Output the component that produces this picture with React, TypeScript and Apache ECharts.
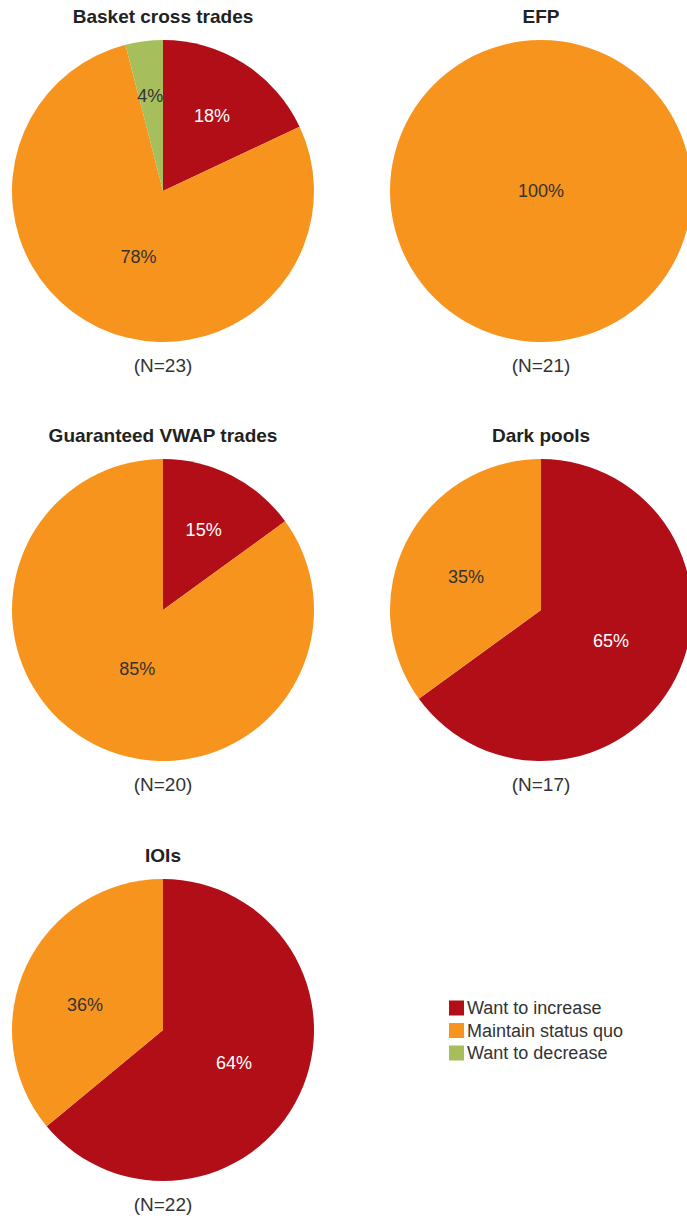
import React, { useEffect, useRef } from "react";
import * as echarts from "echarts";

const categories = ["Want to increase", "Maintain status quo", "Want to decrease"];
const titles = ["Basket cross trades", "EFP", "Guaranteed VWAP trades", "Dark pools", "IOIs"];
const sampleLabels = ["(N=23)", "(N=21)", "(N=20)", "(N=17)", "(N=22)"];
const basketValues = [18, 78, 4];
const efpValues = [0, 100, 0];
const vwapValues = [15, 85, 0];
const darkPoolValues = [65, 35, 0];
const ioiValues = [64, 36, 0];
const allValues = [basketValues, efpValues, vwapValues, darkPoolValues, ioiValues];

const colors = ["#B10E17", "#F7941E", "#A6BF5C"];
const labelColors = ["#ffffff", "#333333", "#333333"];
const centers = [
  [163, 191],
  [541, 191],
  [163, 610],
  [541, 610],
  [163, 1030],
];
// label nudges (style) per series, per category: [dx, dy]
const labelNudges = [
  [[7, -9], [9, -5], [-3, -17]],
  [[0, 0], [0, 0], [0, 0]],
  [[5, -10], [10, -11], [0, 0]],
  [[0, -5], [-5, 3], [0, 0]],
  [[0, 0], [-7, 8], [0, 0]],
];
const RADIUS = 151;
const FONT = "'Liberation Sans', Arial, Helvetica, sans-serif";

export default function App() {
  const ref = useRef<HTMLDivElement>(null);
  useEffect(() => {
    document.body.style.margin = "0";
    const chart = echarts.init(ref.current!, null, { renderer: "svg" });
    const series = allValues.map((vals, si) => {
      const data = vals
        .map((v, i) => ({
          name: categories[i],
          value: v,
          cat: i,
          itemStyle: { color: colors[i] },
          label: { color: labelColors[i] },
        }))
        .filter((d) => d.value > 0);
      const catIdx = data.map((d) => d.cat);
      return {
        type: "pie",
        name: titles[si],
        center: centers[si],
        radius: RADIUS,
        startAngle: 90,
        clockwise: true,
        silent: true,
        minAngle: 0,
        avoidLabelOverlap: false,
        label: {
          show: true,
          position: data.length === 1 ? "center" : "inside",
          formatter: "{c}%",
          fontFamily: FONT,
          fontSize: 18,
        },
        labelLine: { show: false },
        labelLayout: (p: any) => {
          const n = labelNudges[si][catIdx[p.dataIndex]] || [0, 0];
          return { dx: n[0], dy: n[1] };
        },
        itemStyle: { borderWidth: 0 },
        data: data.map(({ cat, ...rest }) => rest),
      };
    });
    const titleItems: any[] = [];
    titles.forEach((t, i) => {
      titleItems.push({
        text: t,
        left: centers[i][0],
        top: centers[i][1] - RADIUS - 33,
        textAlign: "center",
        textStyle: { fontFamily: FONT, fontSize: 19, fontWeight: "bold", color: "#222222" },
        padding: 0,
      });
      titleItems.push({
        text: sampleLabels[i],
        left: centers[i][0],
        top: centers[i][1] + RADIUS + 14,
        textAlign: "center",
        textStyle: { fontFamily: FONT, fontSize: 19, fontWeight: "normal", color: "#333333" },
        padding: 0,
      });
    });
    chart.setOption({
      animation: false,
      backgroundColor: "#ffffff",
      title: titleItems,
      legend: {
        orient: "vertical",
        left: 449,
        top: 999,
        itemWidth: 15,
        itemHeight: 15,
        itemGap: 4.5,
        icon: "rect",
        padding: 0,
        selectedMode: false,
        data: categories.map((c, i) => ({ name: c, itemStyle: { color: colors[i] } })),
        textStyle: { fontFamily: FONT, fontSize: 18, color: "#333333", padding: [0, 0, 0, -2], lineHeight: 18 },
      },
      series,
    });
    return () => chart.dispose();
  }, []);
  return <div ref={ref} style={{ width: 687, height: 1218 }} />;
}
